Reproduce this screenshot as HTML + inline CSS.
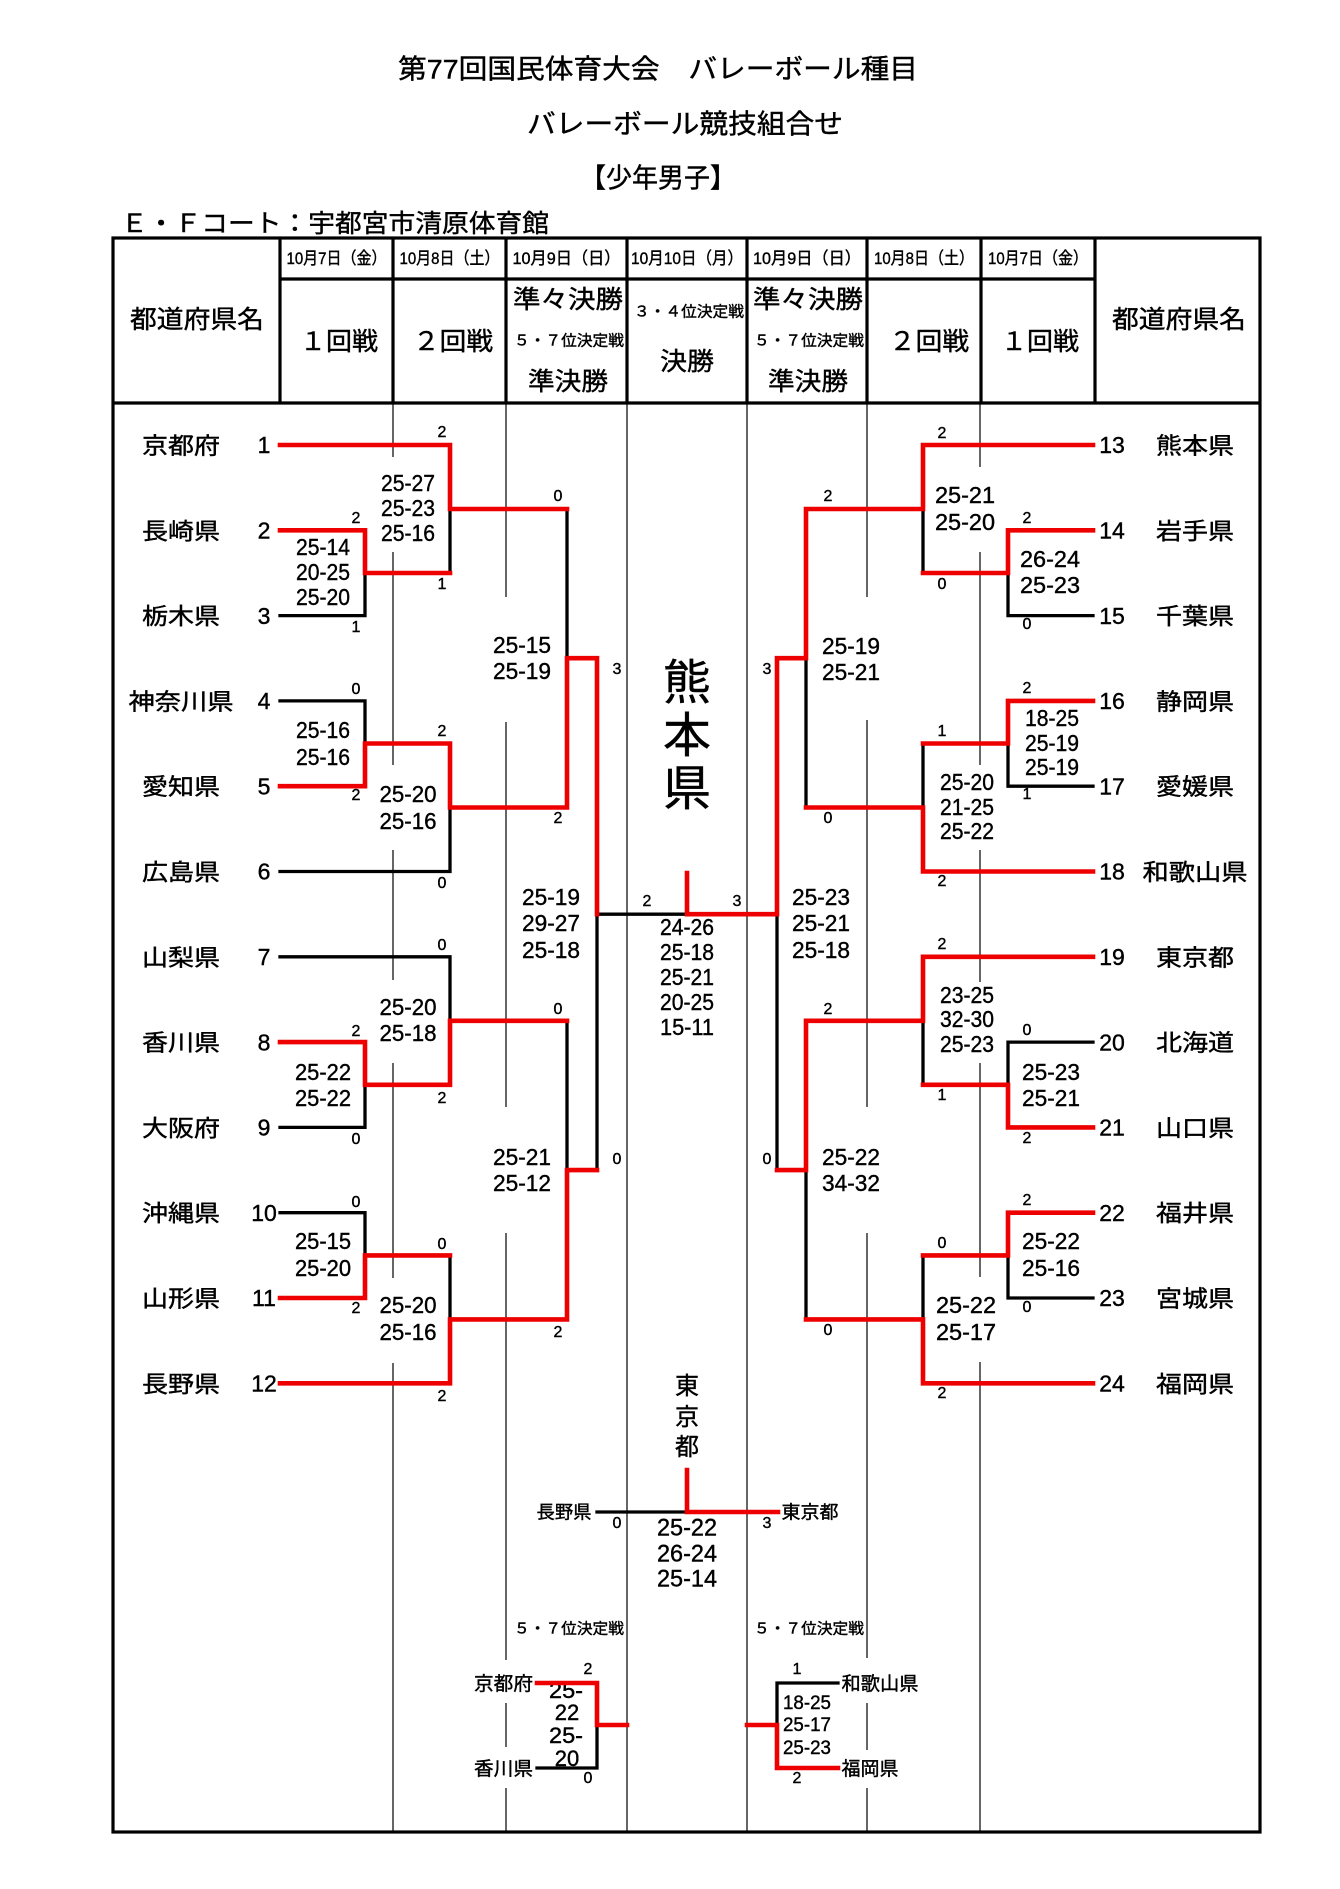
<!DOCTYPE html>
<html><head><meta charset="utf-8">
<style>
html,body{margin:0;padding:0;background:#fff;}
svg{display:block;}
text{font-family:"Liberation Sans","Noto Sans CJK JP",sans-serif;fill:#000;stroke:#000;stroke-width:0.4px;}
.s{font-size:23px;}
.d{font-size:16px;}
.n{font-size:23px;}
</style></head>
<body>
<svg width="1340" height="1889" viewBox="0 0 1340 1889" xmlns="http://www.w3.org/2000/svg">
<rect width="1340" height="1889" fill="#fff"/>

<!-- Titles -->
<text x="658" y="78.5" font-size="27" text-anchor="middle" textLength="520" lengthAdjust="spacingAndGlyphs">第77回国民体育大会　バレーボール種目</text>
<text x="685" y="133.5" font-size="27" text-anchor="middle" textLength="316" lengthAdjust="spacingAndGlyphs">バレーボール競技組合せ</text>
<text x="658" y="187.5" font-size="27" text-anchor="middle" textLength="156" lengthAdjust="spacingAndGlyphs">【少年男子】</text>
<text x="121" y="232" font-size="25" textLength="428" lengthAdjust="spacingAndGlyphs">Ｅ・Ｆコート：宇都宮市清原体育館</text>

<!-- Thin body column lines -->
<g stroke="#000" stroke-width="1.2" fill="none">
<path d="M393 403V457M393 552V765M393 850V980M393 1063V1278M393 1363V1832"/>
<path d="M506 403V597M506 722V1107M506 1233V1660M506 1703V1747M506 1788V1832"/>
<path d="M627 403V1832"/>
<path d="M747 403V1832"/>
<path d="M867 403V597M867 720V1107M867 1233V1658M867 1703V1750M867 1788V1832"/>
<path d="M980 403V467M980 552V765M980 850V982M980 1063V1277M980 1362V1832"/>
</g>

<!-- Table frame / header -->
<g stroke="#000" stroke-width="3.2" fill="none">
<rect x="113" y="238" width="1147" height="1594"/>
<path d="M113 403H1260"/>
<path d="M280 279H1095"/>
<path d="M280 238V403M393 238V403M506 238V403M627 238V403M747 238V403M867 238V403M981 238V403M1095 238V403"/>
</g>

<!-- Header text -->
<g font-size="17">
<text x="336.5" y="264" text-anchor="middle" textLength="100" lengthAdjust="spacingAndGlyphs">10月7日（金）</text>
<text x="449.5" y="264" text-anchor="middle" textLength="100" lengthAdjust="spacingAndGlyphs">10月8日（土）</text>
<text x="566.5" y="264" text-anchor="middle" textLength="108" lengthAdjust="spacingAndGlyphs">10月9日（日）</text>
<text x="687" y="264" text-anchor="middle" textLength="112" lengthAdjust="spacingAndGlyphs">10月10日（月）</text>
<text x="807" y="264" text-anchor="middle" textLength="108" lengthAdjust="spacingAndGlyphs">10月9日（日）</text>
<text x="924" y="264" text-anchor="middle" textLength="100" lengthAdjust="spacingAndGlyphs">10月8日（土）</text>
<text x="1038" y="264" text-anchor="middle" textLength="100" lengthAdjust="spacingAndGlyphs">10月7日（金）</text>
</g>
<g font-size="25">
<text x="197" y="328" text-anchor="middle" textLength="134" lengthAdjust="spacingAndGlyphs">都道府県名</text>
<text x="1179" y="328" text-anchor="middle" textLength="134" lengthAdjust="spacingAndGlyphs">都道府県名</text>
<text x="339" y="350" text-anchor="middle" textLength="78" lengthAdjust="spacingAndGlyphs">１回戦</text>
<text x="453" y="350" text-anchor="middle" textLength="80" lengthAdjust="spacingAndGlyphs">２回戦</text>
<text x="929" y="350" text-anchor="middle" textLength="80" lengthAdjust="spacingAndGlyphs">２回戦</text>
<text x="1040" y="350" text-anchor="middle" textLength="78" lengthAdjust="spacingAndGlyphs">１回戦</text>
<text x="568" y="308" text-anchor="middle" textLength="110" lengthAdjust="spacingAndGlyphs">準々決勝</text>
<text x="808" y="308" text-anchor="middle" textLength="110" lengthAdjust="spacingAndGlyphs">準々決勝</text>
<text x="568" y="390" text-anchor="middle" textLength="80" lengthAdjust="spacingAndGlyphs">準決勝</text>
<text x="808" y="390" text-anchor="middle" textLength="80" lengthAdjust="spacingAndGlyphs">準決勝</text>
<text x="687" y="370" text-anchor="middle" textLength="54" lengthAdjust="spacingAndGlyphs">決勝</text>
</g>
<g font-size="15">
<text x="569" y="345.5" text-anchor="middle" textLength="110" lengthAdjust="spacingAndGlyphs">５・７位決定戦</text>
<text x="809" y="345.5" text-anchor="middle" textLength="110" lengthAdjust="spacingAndGlyphs">５・７位決定戦</text>
<text x="689" y="316.5" text-anchor="middle" textLength="110" lengthAdjust="spacingAndGlyphs">３・４位決定戦</text>
<text x="569" y="1633.5" text-anchor="middle" textLength="110" lengthAdjust="spacingAndGlyphs">５・７位決定戦</text>
<text x="809" y="1633.5" text-anchor="middle" textLength="110" lengthAdjust="spacingAndGlyphs">５・７位決定戦</text>
</g>

<!-- Team names -->
<g font-size="23" text-anchor="middle">
<text x="181" y="453.5" textLength="78" lengthAdjust="spacingAndGlyphs">京都府</text>
<text x="181" y="538.8" textLength="78" lengthAdjust="spacingAndGlyphs">長崎県</text>
<text x="181" y="624.1" textLength="78" lengthAdjust="spacingAndGlyphs">栃木県</text>
<text x="181" y="709.4" textLength="105" lengthAdjust="spacingAndGlyphs">神奈川県</text>
<text x="181" y="794.7" textLength="78" lengthAdjust="spacingAndGlyphs">愛知県</text>
<text x="181" y="880" textLength="78" lengthAdjust="spacingAndGlyphs">広島県</text>
<text x="181" y="965.3" textLength="78" lengthAdjust="spacingAndGlyphs">山梨県</text>
<text x="181" y="1050.6" textLength="78" lengthAdjust="spacingAndGlyphs">香川県</text>
<text x="181" y="1135.9" textLength="78" lengthAdjust="spacingAndGlyphs">大阪府</text>
<text x="181" y="1221.2" textLength="78" lengthAdjust="spacingAndGlyphs">沖縄県</text>
<text x="181" y="1306.5" textLength="78" lengthAdjust="spacingAndGlyphs">山形県</text>
<text x="181" y="1391.8" textLength="78" lengthAdjust="spacingAndGlyphs">長野県</text>
<text x="1195" y="453.5" textLength="78" lengthAdjust="spacingAndGlyphs">熊本県</text>
<text x="1195" y="538.8" textLength="78" lengthAdjust="spacingAndGlyphs">岩手県</text>
<text x="1195" y="624.1" textLength="78" lengthAdjust="spacingAndGlyphs">千葉県</text>
<text x="1195" y="709.4" textLength="78" lengthAdjust="spacingAndGlyphs">静岡県</text>
<text x="1195" y="794.7" textLength="78" lengthAdjust="spacingAndGlyphs">愛媛県</text>
<text x="1195" y="880" textLength="105" lengthAdjust="spacingAndGlyphs">和歌山県</text>
<text x="1195" y="965.3" textLength="78" lengthAdjust="spacingAndGlyphs">東京都</text>
<text x="1195" y="1050.6" textLength="78" lengthAdjust="spacingAndGlyphs">北海道</text>
<text x="1195" y="1135.9" textLength="78" lengthAdjust="spacingAndGlyphs">山口県</text>
<text x="1195" y="1221.2" textLength="78" lengthAdjust="spacingAndGlyphs">福井県</text>
<text x="1195" y="1306.5" textLength="78" lengthAdjust="spacingAndGlyphs">宮城県</text>
<text x="1195" y="1391.8" textLength="78" lengthAdjust="spacingAndGlyphs">福岡県</text>
</g>

<!-- Team numbers -->
<g class="n" text-anchor="middle">
<text x="264" y="453.2">1</text>
<text x="264" y="538.5">2</text>
<text x="264" y="623.8">3</text>
<text x="264" y="709.1">4</text>
<text x="264" y="794.4">5</text>
<text x="264" y="879.7">6</text>
<text x="264" y="965">7</text>
<text x="264" y="1050.3">8</text>
<text x="264" y="1135.6">9</text>
<text x="264" y="1220.9">10</text>
<text x="264" y="1306.2">11</text>
<text x="264" y="1391.5">12</text>
<text x="1112" y="453.2">13</text>
<text x="1112" y="538.5">14</text>
<text x="1112" y="623.8">15</text>
<text x="1112" y="709.1">16</text>
<text x="1112" y="794.4">17</text>
<text x="1112" y="879.7">18</text>
<text x="1112" y="965">19</text>
<text x="1112" y="1050.3">20</text>
<text x="1112" y="1135.6">21</text>
<text x="1112" y="1220.9">22</text>
<text x="1112" y="1306.2">23</text>
<text x="1112" y="1391.5">24</text>
</g>

<!-- Set scores -->
<g class="s" text-anchor="middle">
<text x="323" y="555.2" textLength="54" lengthAdjust="spacingAndGlyphs">25-14</text>
<text x="323" y="580.2" textLength="54" lengthAdjust="spacingAndGlyphs">20-25</text>
<text x="323" y="605.2" textLength="54" lengthAdjust="spacingAndGlyphs">25-20</text>
<text x="323" y="738.2" textLength="54" lengthAdjust="spacingAndGlyphs">25-16</text>
<text x="323" y="765.2" textLength="54" lengthAdjust="spacingAndGlyphs">25-16</text>
<text x="323" y="1080.2" textLength="56" lengthAdjust="spacingAndGlyphs">25-22</text>
<text x="323" y="1106.2" textLength="56" lengthAdjust="spacingAndGlyphs">25-22</text>
<text x="323" y="1249.2" textLength="56" lengthAdjust="spacingAndGlyphs">25-15</text>
<text x="323" y="1276.2" textLength="56" lengthAdjust="spacingAndGlyphs">25-20</text>
<text x="408" y="491.2" textLength="54" lengthAdjust="spacingAndGlyphs">25-27</text>
<text x="408" y="516.2" textLength="54" lengthAdjust="spacingAndGlyphs">25-23</text>
<text x="408" y="541.2" textLength="54" lengthAdjust="spacingAndGlyphs">25-16</text>
<text x="408" y="802.2" textLength="57" lengthAdjust="spacingAndGlyphs">25-20</text>
<text x="408" y="829.2" textLength="57" lengthAdjust="spacingAndGlyphs">25-16</text>
<text x="408" y="1015.2" textLength="57" lengthAdjust="spacingAndGlyphs">25-20</text>
<text x="408" y="1041.2" textLength="57" lengthAdjust="spacingAndGlyphs">25-18</text>
<text x="408" y="1313.2" textLength="57" lengthAdjust="spacingAndGlyphs">25-20</text>
<text x="408" y="1340.2" textLength="57" lengthAdjust="spacingAndGlyphs">25-16</text>
<text x="522" y="653.2" textLength="58" lengthAdjust="spacingAndGlyphs">25-15</text>
<text x="522" y="679.2" textLength="58" lengthAdjust="spacingAndGlyphs">25-19</text>
<text x="522" y="1165.2" textLength="58" lengthAdjust="spacingAndGlyphs">25-21</text>
<text x="522" y="1191.2" textLength="58" lengthAdjust="spacingAndGlyphs">25-12</text>
<text x="551" y="905.2" textLength="58" lengthAdjust="spacingAndGlyphs">25-19</text>
<text x="551" y="931.2" textLength="58" lengthAdjust="spacingAndGlyphs">29-27</text>
<text x="551" y="958.2" textLength="58" lengthAdjust="spacingAndGlyphs">25-18</text>
<text x="687" y="935.2" textLength="54" lengthAdjust="spacingAndGlyphs">24-26</text>
<text x="687" y="960.2" textLength="54" lengthAdjust="spacingAndGlyphs">25-18</text>
<text x="687" y="985.2" textLength="54" lengthAdjust="spacingAndGlyphs">25-21</text>
<text x="687" y="1010.2" textLength="54" lengthAdjust="spacingAndGlyphs">20-25</text>
<text x="687" y="1035.2" textLength="54" lengthAdjust="spacingAndGlyphs">15-11</text>
<text x="821" y="905.2" textLength="58" lengthAdjust="spacingAndGlyphs">25-23</text>
<text x="821" y="931.2" textLength="58" lengthAdjust="spacingAndGlyphs">25-21</text>
<text x="821" y="958.2" textLength="58" lengthAdjust="spacingAndGlyphs">25-18</text>
<text x="851" y="654.2" textLength="58" lengthAdjust="spacingAndGlyphs">25-19</text>
<text x="851" y="680.2" textLength="58" lengthAdjust="spacingAndGlyphs">25-21</text>
<text x="851" y="1165.2" textLength="58" lengthAdjust="spacingAndGlyphs">25-22</text>
<text x="851" y="1191.2" textLength="58" lengthAdjust="spacingAndGlyphs">34-32</text>
<text x="965" y="503.2" textLength="60" lengthAdjust="spacingAndGlyphs">25-21</text>
<text x="965" y="530.2" textLength="60" lengthAdjust="spacingAndGlyphs">25-20</text>
<text x="967" y="790.2" textLength="54" lengthAdjust="spacingAndGlyphs">25-20</text>
<text x="967" y="815.2" textLength="54" lengthAdjust="spacingAndGlyphs">21-25</text>
<text x="967" y="839.2" textLength="54" lengthAdjust="spacingAndGlyphs">25-22</text>
<text x="967" y="1003.2" textLength="54" lengthAdjust="spacingAndGlyphs">23-25</text>
<text x="967" y="1027.2" textLength="54" lengthAdjust="spacingAndGlyphs">32-30</text>
<text x="967" y="1052.2" textLength="54" lengthAdjust="spacingAndGlyphs">25-23</text>
<text x="966" y="1313.2" textLength="60" lengthAdjust="spacingAndGlyphs">25-22</text>
<text x="966" y="1340.2" textLength="60" lengthAdjust="spacingAndGlyphs">25-17</text>
<text x="1050" y="567.2" textLength="60" lengthAdjust="spacingAndGlyphs">26-24</text>
<text x="1050" y="593.2" textLength="60" lengthAdjust="spacingAndGlyphs">25-23</text>
<text x="1052" y="726.2" textLength="54" lengthAdjust="spacingAndGlyphs">18-25</text>
<text x="1052" y="751.2" textLength="54" lengthAdjust="spacingAndGlyphs">25-19</text>
<text x="1052" y="775.2" textLength="54" lengthAdjust="spacingAndGlyphs">25-19</text>
<text x="1051" y="1080.2" textLength="58" lengthAdjust="spacingAndGlyphs">25-23</text>
<text x="1051" y="1106.2" textLength="58" lengthAdjust="spacingAndGlyphs">25-21</text>
<text x="1051" y="1249.2" textLength="58" lengthAdjust="spacingAndGlyphs">25-22</text>
<text x="1051" y="1276.2" textLength="58" lengthAdjust="spacingAndGlyphs">25-16</text>
</g>

<!-- Champion -->
<g font-size="48" text-anchor="middle">
<text x="687" y="698.8">熊</text>
<text x="687" y="751.8">本</text>
<text x="687" y="804.8">県</text>
</g>

<!-- 3rd place -->
<g font-size="24" text-anchor="middle">
<text x="687" y="1394">東</text>
<text x="687" y="1425">京</text>
<text x="687" y="1455">都</text>
<text x="687" y="1535.6" textLength="60" lengthAdjust="spacingAndGlyphs">25-22</text>
<text x="687" y="1561.6" textLength="60" lengthAdjust="spacingAndGlyphs">26-24</text>
<text x="687" y="1586.6" textLength="60" lengthAdjust="spacingAndGlyphs">25-14</text>
</g>
<g font-size="18" text-anchor="middle">
<text x="564" y="1518.7" textLength="55" lengthAdjust="spacingAndGlyphs">長野県</text>
<text x="810" y="1518.7" textLength="57" lengthAdjust="spacingAndGlyphs">東京都</text>
</g>

<!-- 5-7 place -->
<rect x="474" y="1662" width="60" height="40" fill="#fff"/>
<rect x="474" y="1748" width="60" height="38" fill="#fff"/>
<g font-size="19" text-anchor="middle">
<text x="503.5" y="1690" textLength="59" lengthAdjust="spacingAndGlyphs">京都府</text>
<text x="503.5" y="1775" textLength="59" lengthAdjust="spacingAndGlyphs">香川県</text>
<text x="880" y="1690" textLength="77" lengthAdjust="spacingAndGlyphs">和歌山県</text>
<text x="870" y="1775" textLength="57" lengthAdjust="spacingAndGlyphs">福岡県</text>
</g>
<g font-size="22">
<text x="549" y="1697.9" textLength="34" lengthAdjust="spacingAndGlyphs">25-</text>
<text x="567" y="1719.9" text-anchor="middle">22</text>
<text x="549" y="1742.9" textLength="34" lengthAdjust="spacingAndGlyphs">25-</text>
<text x="567" y="1765.9" text-anchor="middle">20</text>
</g>
<g font-size="19" text-anchor="middle">
<text x="807" y="1708.8" textLength="48" lengthAdjust="spacingAndGlyphs">18-25</text>
<text x="807" y="1730.8" textLength="48" lengthAdjust="spacingAndGlyphs">25-17</text>
<text x="807" y="1753.8" textLength="48" lengthAdjust="spacingAndGlyphs">25-23</text>
</g>

<!-- Bracket lines black -->
<g stroke="#000" stroke-width="3.3" fill="none" stroke-linecap="square" stroke-linejoin="miter">
<path d="M280 615.6H365V573"/>
<path d="M280 700.9H365V743.5"/>
<path d="M450 509V573"/>
<path d="M280 871.5H450V807.5"/>
<path d="M567 509V658.2"/>
<path d="M280 956.8H450V1020.8"/>
<path d="M280 1127.4H365V1084.8"/>
<path d="M567 1020.8V1170.1"/>
<path d="M280 1212.7H365V1255.4"/>
<path d="M450 1255.4V1319.4"/>
<path d="M597 914.2V1170.1"/>
<path d="M597 914.2H687"/>
<path d="M1093 615.6H1008V573"/>
<path d="M923 509V573"/>
<path d="M1093 786.2H1008V743.5"/>
<path d="M923 743.5V807.5"/>
<path d="M806 658.2V807.5"/>
<path d="M777 914.2V1170.1"/>
<path d="M1093 1042.1H1008V1084.8"/>
<path d="M923 1020.8V1084.8"/>
<path d="M1093 1298H1008V1255.4"/>
<path d="M923 1255.4V1319.4"/>
<path d="M806 1170.1V1319.4"/>
<path d="M597 1512H687"/>
<path d="M597 1725V1768H537"/>
<path d="M838 1683H777V1725"/>
</g>

<!-- Bracket lines red -->
<g stroke="#ee0000" stroke-width="4.6" fill="none" stroke-linecap="square" stroke-linejoin="miter">
<path d="M280 445H450V509H567"/>
<path d="M280 530.3H365V573H450"/>
<path d="M280 786.2H365V743.5H450V807.5H567V658.2H597V914.2"/>
<path d="M280 1042.1H365V1084.8H450V1020.8H567"/>
<path d="M280 1298H365V1255.4H450"/>
<path d="M280 1383.3H450V1319.4H567V1170.1H597"/>
<path d="M1093 445H923V509H806V658.2H777V914.2H687V873"/>
<path d="M1093 530.3H1008V573H923"/>
<path d="M1093 700.9H1008V743.5H923"/>
<path d="M1093 871.5H923V807.5H806"/>
<path d="M1093 956.8H923V1020.8H806V1170.1H777"/>
<path d="M1093 1127.4H1008V1084.8H923"/>
<path d="M1093 1212.7H1008V1255.4H923"/>
<path d="M1093 1383.3H923V1319.4H806"/>
<path d="M687 1470V1512H778"/>
<path d="M537 1683H597V1725H627"/>
<path d="M747 1725H777V1768H838"/>
</g>

<!-- Match scores (small digits) -->
<g class="d" text-anchor="middle">
<text x="356" y="522.8">2</text><text x="356" y="631.8">1</text>
<text x="356" y="693.8">0</text><text x="356" y="799.8">2</text>
<text x="356" y="1035.8">2</text><text x="356" y="1143.8">0</text>
<text x="356" y="1206.8">0</text><text x="356" y="1312.8">2</text>
<text x="442" y="436.8">2</text><text x="442" y="588.8">1</text>
<text x="442" y="735.8">2</text><text x="442" y="887.8">0</text>
<text x="442" y="949.8">0</text><text x="442" y="1102.8">2</text>
<text x="442" y="1248.8">0</text><text x="442" y="1400.8">2</text>
<text x="558" y="500.8">0</text><text x="558" y="822.8">2</text>
<text x="558" y="1013.8">0</text><text x="558" y="1336.8">2</text>
<text x="617" y="673.8">3</text><text x="617" y="1163.8">0</text>
<text x="647" y="905.8">2</text><text x="737" y="905.8">3</text>
<text x="767" y="673.8">3</text><text x="767" y="1163.8">0</text>
<text x="828" y="500.8">2</text><text x="828" y="822.8">0</text>
<text x="828" y="1013.8">2</text><text x="828" y="1334.8">0</text>
<text x="942" y="437.8">2</text><text x="942" y="588.8">0</text>
<text x="942" y="735.8">1</text><text x="942" y="885.8">2</text>
<text x="942" y="948.8">2</text><text x="942" y="1099.8">1</text>
<text x="942" y="1247.8">0</text><text x="942" y="1397.8">2</text>
<text x="1027" y="522.8">2</text><text x="1027" y="628.8">0</text>
<text x="1027" y="692.8">2</text><text x="1027" y="798.8">1</text>
<text x="1027" y="1034.8">0</text><text x="1027" y="1142.8">2</text>
<text x="1027" y="1204.8">2</text><text x="1027" y="1311.8">0</text>
<text x="617" y="1527.8">0</text><text x="767" y="1527.8">3</text>
<text x="588" y="1673.8">2</text><text x="588" y="1782.8">0</text>
<text x="797" y="1673.8">1</text><text x="797" y="1782.8">2</text>
</g>
</svg>
</body></html>
